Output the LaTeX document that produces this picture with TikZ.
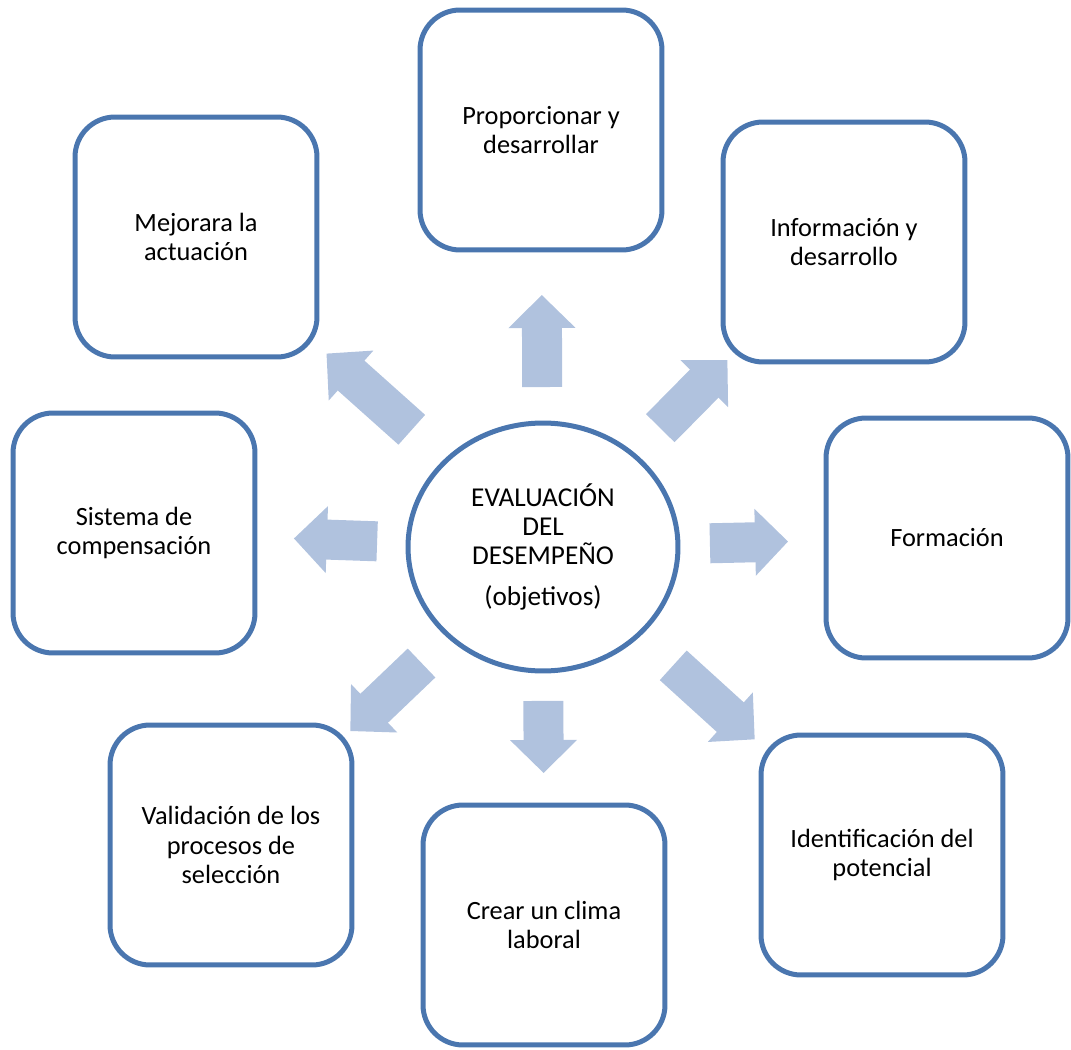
\documentclass[tikz,border=0pt]{standalone}
\usepackage{fontspec}
\setmainfont{Carlito}
\usetikzlibrary{arrows.meta,shapes.geometric}
\definecolor{boxblue}{RGB}{74,118,175}
\definecolor{arrowblue}{RGB}{176,194,222}

\begin{document}
\begin{tikzpicture}[x=0.02cm, y=-0.02cm,
    main/.style = {draw=boxblue, line width=0.1cm, rounded corners=0.8cm, minimum width=4.84cm, minimum height=4.8cm, inner sep=0pt, align=center, font=\fontsize{15}{17}\selectfont},
    centernode/.style = {draw=boxblue, line width=0.1cm, ellipse, minimum width=5.4cm, minimum height=4.96cm, inner sep=0pt, align=center, font=\fontsize{15.5}{16.5}\selectfont},
    spoke/.style = {arrowblue, line width=0.8cm, -{Triangle[width=1.3cm, length=0.66cm]}}]
    \useasboundingbox (0,0) rectangle (1071,1050);
        \node[centernode] (0) at (543,547) {EVALUACIÓN\\DEL\\DESEMPEÑO\\[7pt](objetivos)};
        \node[main] (1) at (541,130) {Proporcionar y\\desarrollar};
        \node[main] (2) at (844,242) {Información y\\desarrollo};
        \node[main] (3) at (947,538) {Formación};
        \node[main] (4) at (882,855) {Identificación del\\potencial};
        \node[main] (5) at (544,925) {Crear un clima\\laboral};
        \node[main] (6) at (231,845) {Validación de los\\procesos de\\selección};
        \node[main] (7) at (134,533) {Sistema de\\compensación};
        \node[main] (8) at (196,237) {Mejorara la\\actuación};
        \draw[spoke, shorten <=3.2cm, shorten >=3.3cm] (0.center) -- (1.center);
        \draw[spoke, shorten <=3.34cm, shorten >=3.32cm] (0.center) -- (2.center);
        \draw[spoke, shorten <=3.34cm, shorten >=3.18cm] (0.center) -- (3.center);
        \draw[spoke, shorten <=3.52cm, shorten >=3.44cm] (0.center) -- (4.center);
        \draw[spoke, shorten <=3.08cm, shorten >=3.04cm] (0.center) -- (5.center);
        \draw[spoke, shorten <=3.36cm, shorten >=3.3cm] (0.center) -- (6.center);
        \draw[spoke, shorten <=3.32cm, shorten >=3.2cm] (0.center) -- (7.center);
        \draw[spoke, shorten <=3.52cm, shorten >=3.5cm] (0.center) -- (8.center);
    \end{tikzpicture}
\end{document}
